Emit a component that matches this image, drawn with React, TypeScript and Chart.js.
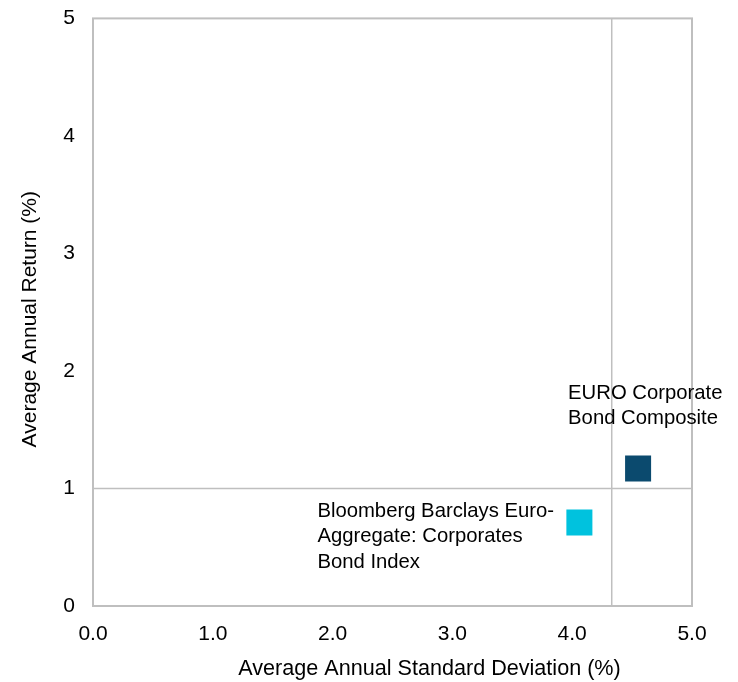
import React, { useEffect, useRef } from "react";
import { Chart, registerables } from "chart.js";

Chart.register(...registerables);

const xTicks = [0, 1, 2, 3, 4, 5];
const yTicks = [0, 1, 2, 3, 4, 5];
const seriesNames = ["EURO Corporate Bond Composite", "Bloomberg Barclays Euro-Aggregate: Corporates Bond Index"];
const seriesX = [4.55, 4.06];
const seriesY = [1.17, 0.71];
const seriesColors = ["#0b4a6e", "#00c2de"];
const seriesLabelLines = [
  ["EURO Corporate", "Bond Composite"],
  ["Bloomberg Barclays Euro-", "Aggregate: Corporates", "Bond Index"],
];
const refX = 4.33;
const refY = 1.0;
const xTitle = "Average Annual Standard Deviation (%)";
const yTitle = "Average Annual Return (%)";

const FONT = "'Liberation Sans', Arial, sans-serif";
const GRAY = "#bfbfbf";

const labelOffsets = [
  { dx: -70, dy: -70 },
  { dx: -262, dy: -6 },
];

const framePlugin = {
  id: "frame",
  beforeDatasetsDraw(chart: any) {
    const { ctx, chartArea } = chart;
    ctx.save();
    ctx.strokeStyle = GRAY;
    ctx.lineWidth = 2;
    ctx.strokeRect(chartArea.left, chartArea.top, chartArea.right - chartArea.left, chartArea.bottom - chartArea.top);
    ctx.restore();
  },
};

const titlePlugin = {
  id: "axisTitles",
  afterDraw(chart: any) {
    const { ctx, chartArea } = chart;
    ctx.save();
    ctx.fillStyle = "#000";
    ctx.textAlign = "center";
    ctx.textBaseline = "middle";
    ctx.font = `21.6px ${FONT}`;
    const cx = (chartArea.left + chartArea.right) / 2;
    ctx.fillText(xTitle, cx + 37, chartArea.bottom + 63);
    ctx.font = `21px ${FONT}`;
    ctx.translate(chartArea.left - 63, (chartArea.top + chartArea.bottom) / 2 + 7);
    ctx.rotate(-Math.PI / 2);
    ctx.fillText(yTitle, 0, 0);
    ctx.restore();
  },
};

const labelPlugin = {
  id: "pointLabels",
  afterDatasetsDraw(chart: any) {
    const { ctx } = chart;
    ctx.save();
    ctx.font = `20.3px ${FONT}`;
    ctx.fillStyle = "#000";
    ctx.textAlign = "left";
    ctx.textBaseline = "alphabetic";
    seriesLabelLines.forEach((lines, i) => {
      const meta = chart.getDatasetMeta(i);
      const el = meta.data[0];
      if (!el) return;
      const off = labelOffsets[i];
      lines.forEach((line, j) => {
        ctx.fillText(line, el.x + off.dx, el.y + off.dy + j * 25.5);
      });
    });
    ctx.restore();
  },
};

export default function App() {
  const ref = useRef<HTMLCanvasElement | null>(null);
  useEffect(() => {
    if (!ref.current) return;
    const pointSets = seriesNames.map((name, i) => ({
      type: "scatter" as const,
      label: name,
      data: [{ x: seriesX[i], y: seriesY[i] }],
      pointStyle: "rect",
      pointRadius: 18.4,
      pointHoverRadius: 18.4,
      backgroundColor: seriesColors[i],
      borderColor: seriesColors[i],
      borderWidth: 0,
      order: 0,
    }));
    const chart = new Chart(ref.current, {
      type: "scatter",
      data: {
        datasets: [
          ...pointSets,
          {
            type: "line" as const,
            label: "refX",
            data: [{ x: refX, y: 0 }, { x: refX, y: 5 }],
            borderColor: GRAY,
            borderWidth: 1.5,
            pointRadius: 0,
            showLine: true,
            order: 5,
          },
          {
            type: "line" as const,
            label: "refY",
            data: [{ x: 0, y: refY }, { x: 5, y: refY }],
            borderColor: GRAY,
            borderWidth: 1.5,
            pointRadius: 0,
            showLine: true,
            order: 5,
          },
        ] as any,
      },
      options: {
        animation: false,
        responsive: false,
        maintainAspectRatio: false,
        layout: { padding: { top: 18, right: 46, bottom: 0, left: 0 } },
        plugins: { legend: { display: false }, tooltip: { enabled: false } },
        scales: {
          x: {
            type: "linear",
            min: 0,
            max: 5,
            afterBuildTicks: (s: any) => { s.ticks = xTicks.map((v) => ({ value: v })); },
            afterFit: (s: any) => { s.height = 76; },
            grid: { display: false },
            border: { display: false },
            ticks: {
              color: "#000",
              font: { family: FONT, size: 21 },
              padding: 8,
              callback: (v: any) => Number(v).toFixed(1),
            },
            title: { display: false },
          },
          y: {
            type: "linear",
            min: 0,
            max: 5,
            afterBuildTicks: (s: any) => { s.ticks = yTicks.map((v) => ({ value: v })); },
            afterFit: (s: any) => { s.width = 93; s.paddingTop = 0; s.paddingBottom = 0; },
            grid: { display: false },
            border: { display: false },
            ticks: {
              color: "#000",
              font: { family: FONT, size: 21 },
              padding: 10,
              callback: (v: any) => String(v),
            },
            title: { display: false },
          },
        },
      } as any,
      plugins: [framePlugin, labelPlugin, titlePlugin],
    });
    return () => chart.destroy();
  }, []);
  return (
    <div style={{ position: "fixed", left: 0, top: 0, width: 738, height: 682, background: "#fff" }}>
      <canvas ref={ref} width={738} height={682} style={{ width: 738, height: 682 }} />
    </div>
  );
}
